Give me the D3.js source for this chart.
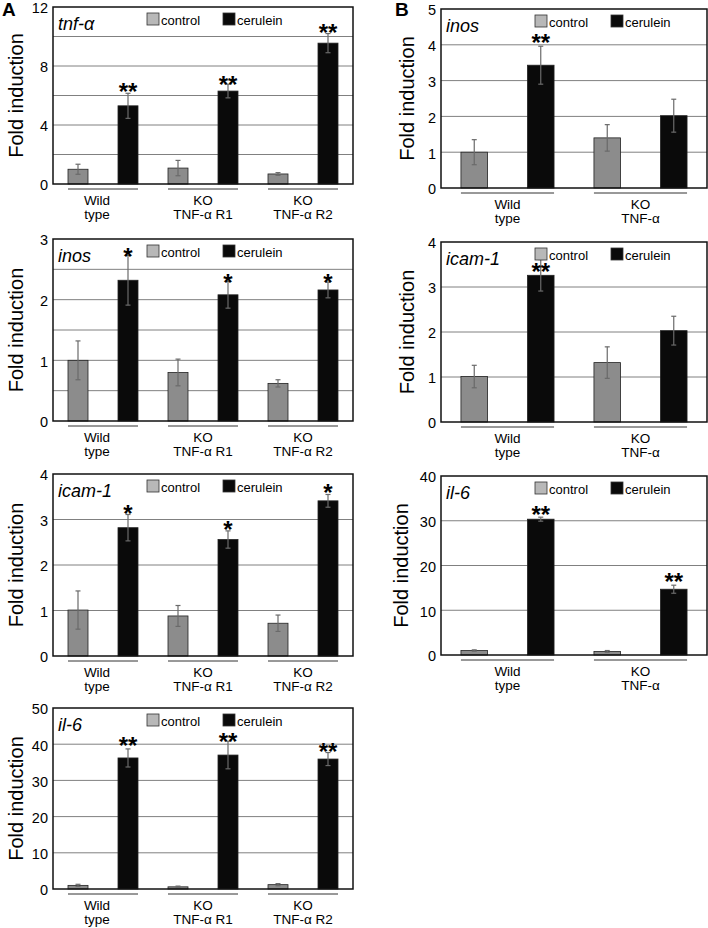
<!DOCTYPE html>
<html>
<head>
<meta charset="utf-8">
<script src="https://cdn.jsdelivr.net/npm/d3@7"></script>
<style>
  html, body { margin: 0; padding: 0; background: #fff; }
  svg { display: block; font-family: "Liberation Sans", Arial, sans-serif; }
</style>
</head>
<body>
<svg id="chart" width="708" height="928"></svg>
<script>
// ---------------- DATA ----------------
const seriesNames = ["control", "cerulein"];
const groupsA = [["Wild", "type"], ["KO", "TNF-α R1"], ["KO", "TNF-α R2"]];
const groupsB = [["Wild", "type"], ["KO", "TNF-α"]];

// Panel A – tnf-α
const tnfA_control = [1.0, 1.08, 0.68];
const tnfA_controlErr = [0.34, 0.52, 0.09];
const tnfA_cerulein = [5.3, 6.3, 9.55];
const tnfA_ceruleinErr = [0.85, 0.46, 0.65];
const tnfA_stars = ["**", "**", "**"];
const tnfA_starLevel = [6.17, 6.7, 10.2];
const tnfA_ticks = [0, 4, 8, 12];
const tnfA_grid = [2, 4, 6, 8, 10];

// Panel A – inos
const inosA_control = [1.0, 0.8, 0.62];
const inosA_controlErr = [0.32, 0.22, 0.06];
const inosA_cerulein = [2.32, 2.08, 2.16];
const inosA_ceruleinErr = [0.41, 0.22, 0.13];
const inosA_stars = ["*", "*", "*"];
const inosA_starLevel = [2.7, 2.27, 2.27];
const inosA_ticks = [0, 1, 2, 3];
const inosA_grid = [0.5, 1, 1.5, 2, 2.5];

// Panel A – icam-1
const icamA_control = [1.01, 0.88, 0.72];
const icamA_controlErr = [0.42, 0.23, 0.18];
const icamA_cerulein = [2.82, 2.56, 3.41];
const icamA_ceruleinErr = [0.29, 0.19, 0.14];
const icamA_stars = ["*", "*", "*"];
const icamA_starLevel = [3.1, 2.76, 3.58];
const icamA_ticks = [0, 1, 2, 3, 4];
const icamA_grid = [1, 2, 3];

// Panel A – il-6
const il6A_control = [1.0, 0.6, 1.2];
const il6A_controlErr = [0.3, 0.2, 0.3];
const il6A_cerulein = [36.2, 37.0, 35.9];
const il6A_ceruleinErr = [2.5, 3.8, 1.8];
const il6A_stars = ["**", "**", "**"];
const il6A_starLevel = [39.3, 40.4, 37.6];
const il6A_ticks = [0, 10, 20, 30, 40, 50];
const il6A_grid = [10, 20, 30, 40];

// Panel B – inos
const inosB_control = [1.0, 1.4];
const inosB_controlErr = [0.35, 0.37];
const inosB_cerulein = [3.43, 2.02];
const inosB_ceruleinErr = [0.53, 0.46];
const inosB_stars = ["**", ""];
const inosB_starLevel = [4.05, 0];
const inosB_ticks = [0, 1, 2, 3, 4, 5];
const inosB_grid = [1, 2, 3, 4];

// Panel B – icam-1
const icamB_control = [1.01, 1.32];
const icamB_controlErr = [0.25, 0.35];
const icamB_cerulein = [3.26, 2.03];
const icamB_ceruleinErr = [0.35, 0.32];
const icamB_stars = ["**", ""];
const icamB_starLevel = [3.32, 0];
const icamB_ticks = [0, 1, 2, 3, 4];
const icamB_grid = [1, 2, 3];

// Panel B – il-6
const il6B_control = [1.0, 0.8];
const il6B_controlErr = [0.15, 0.2];
const il6B_cerulein = [30.35, 14.7];
const il6B_ceruleinErr = [0.45, 0.9];
const il6B_stars = ["**", "**"];
const il6B_starLevel = [31.2, 16.1];
const il6B_ticks = [0, 10, 20, 30, 40];
const il6B_grid = [10, 20, 30];

// ---------------- PANELS (layout) ----------------
const panels = [
  {gene: "tnf-α", groups: groupsA, control: tnfA_control, controlErr: tnfA_controlErr, cerulein: tnfA_cerulein, ceruleinErr: tnfA_ceruleinErr, stars: tnfA_stars, starLevel: tnfA_starLevel, ticks: tnfA_ticks, grid: tnfA_grid,
   x0: 53, x1: 353, y0: 7, y1: 184, labelX: 23, letter: "A"},
  {gene: "inos", groups: groupsA, control: inosA_control, controlErr: inosA_controlErr, cerulein: inosA_cerulein, ceruleinErr: inosA_ceruleinErr, stars: inosA_stars, starLevel: inosA_starLevel, ticks: inosA_ticks, grid: inosA_grid,
   x0: 53, x1: 353, y0: 239, y1: 421, labelX: 23},
  {gene: "icam-1", groups: groupsA, control: icamA_control, controlErr: icamA_controlErr, cerulein: icamA_cerulein, ceruleinErr: icamA_ceruleinErr, stars: icamA_stars, starLevel: icamA_starLevel, ticks: icamA_ticks, grid: icamA_grid,
   x0: 53, x1: 353, y0: 474, y1: 656, labelX: 23},
  {gene: "il-6", groups: groupsA, control: il6A_control, controlErr: il6A_controlErr, cerulein: il6A_cerulein, ceruleinErr: il6A_ceruleinErr, stars: il6A_stars, starLevel: il6A_starLevel, ticks: il6A_ticks, grid: il6A_grid,
   x0: 53, x1: 353, y0: 708, y1: 889, labelX: 23},
  {gene: "inos", groups: groupsB, control: inosB_control, controlErr: inosB_controlErr, cerulein: inosB_cerulein, ceruleinErr: inosB_ceruleinErr, stars: inosB_stars, starLevel: inosB_starLevel, ticks: inosB_ticks, grid: inosB_grid,
   x0: 441, x1: 707, y0: 9, y1: 188, labelX: 414, letter: "B"},
  {gene: "icam-1", groups: groupsB, control: icamB_control, controlErr: icamB_controlErr, cerulein: icamB_cerulein, ceruleinErr: icamB_ceruleinErr, stars: icamB_stars, starLevel: icamB_starLevel, ticks: icamB_ticks, grid: icamB_grid,
   x0: 441, x1: 707, y0: 242, y1: 422, labelX: 414},
  {gene: "il-6", groups: groupsB, control: il6B_control, controlErr: il6B_controlErr, cerulein: il6B_cerulein, ceruleinErr: il6B_ceruleinErr, stars: il6B_stars, starLevel: il6B_starLevel, ticks: il6B_ticks, grid: il6B_grid,
   x0: 441, x1: 707, y0: 476, y1: 655, labelX: 408}
];

const colors = {control: "#8c8c8c", cerulein: "#0a0a0a"};
const legendColors = {control: "#b8b8b8", cerulein: "#0a0a0a"};

const svg = d3.select("#chart");
svg.append("rect").attr("width", 708).attr("height", 928).attr("fill", "#fff");

panels.forEach(p => {
  const g = svg.append("g");
  const maxTick = d3.max(p.ticks);
  const y = d3.scaleLinear().domain([0, maxTick]).range([p.y1, p.y0]);
  const gx = d3.scaleBand().domain(d3.range(p.groups.length)).range([p.x0, p.x1]).padding(0);
  const sx = d3.scaleBand().domain(seriesNames).range([0, gx.bandwidth()]).paddingInner(0.6).paddingOuter(0.3);

  // gridlines
  g.selectAll("line.grid").data(p.grid).join("line")
    .attr("x1", p.x0).attr("x2", p.x1)
    .attr("y1", d => y(d)).attr("y2", d => y(d))
    .attr("stroke", "#808080").attr("stroke-width", 1);

  // bars
  const rows = [];
  p.groups.forEach((grp, i) => {
    rows.push({i, s: "control", v: p.control[i], e: p.controlErr[i]});
    rows.push({i, s: "cerulein", v: p.cerulein[i], e: p.ceruleinErr[i]});
  });
  g.selectAll("rect.bar").data(rows).join("rect")
    .attr("x", d => gx(d.i) + sx(d.s))
    .attr("width", sx.bandwidth())
    .attr("y", d => y(d.v))
    .attr("height", d => y(0) - y(d.v))
    .attr("fill", d => colors[d.s])
    .attr("stroke", "#222").attr("stroke-width", 0.8);

  // error bars
  const eb = g.selectAll("g.err").data(rows).join("g");
  const cx = d => gx(d.i) + sx(d.s) + sx.bandwidth() / 2;
  eb.append("line")
    .attr("x1", cx).attr("x2", cx)
    .attr("y1", d => y(d.v - d.e)).attr("y2", d => y(d.v + d.e))
    .attr("stroke", "#6a6a6a").attr("stroke-width", 1.2);
  eb.append("line")
    .attr("x1", d => cx(d) - 2.5).attr("x2", d => cx(d) + 2.5)
    .attr("y1", d => y(d.v + d.e)).attr("y2", d => y(d.v + d.e))
    .attr("stroke", "#6a6a6a").attr("stroke-width", 1.2);
  eb.append("line")
    .attr("x1", d => cx(d) - 2.5).attr("x2", d => cx(d) + 2.5)
    .attr("y1", d => y(d.v - d.e)).attr("y2", d => y(d.v - d.e))
    .attr("stroke", "#6a6a6a").attr("stroke-width", 1.2);

  // significance stars
  g.selectAll("text.star").data(p.groups.map((_, i) => i).filter(i => p.stars[i])).join("text")
    .attr("x", i => gx(i) + sx("cerulein") + sx.bandwidth() / 2)
    .attr("y", i => y(p.starLevel[i]) + 7.5)
    .attr("text-anchor", "middle")
    .attr("font-size", 24).attr("font-weight", "bold")
    .text(i => p.stars[i]);

  // frame
  g.append("rect")
    .attr("x", p.x0).attr("y", p.y0)
    .attr("width", p.x1 - p.x0).attr("height", p.y1 - p.y0)
    .attr("fill", "none").attr("stroke", "#111").attr("stroke-width", 1.5);

  // y axis
  const ax = g.append("g").attr("transform", `translate(${p.x0},0)`)
    .call(d3.axisLeft(y).tickValues(p.ticks).tickSize(0).tickPadding(5).tickFormat(d3.format("d")));
  ax.select(".domain").remove();
  ax.selectAll("text").attr("font-size", 14.5).attr("fill", "#000")
    .attr("dy", "0.4em")
    .attr("font-family", "Liberation Sans, Arial, sans-serif");

  // y label
  g.append("text")
    .attr("transform", `translate(${p.labelX},${(p.y0 + p.y1) / 2}) rotate(-90)`)
    .attr("text-anchor", "middle")
    .attr("font-size", 20)
    .text("Fold induction");

  // gene title
  g.append("text")
    .attr("x", p.x0 + 5).attr("y", p.y0 + 23)
    .attr("font-size", 18).attr("font-style", "italic")
    .text(p.gene);

  // legend
  seriesNames.forEach((s, k) => {
    const lx = p.x0 + (k === 0 ? 94 : 170);
    g.append("rect").attr("x", lx).attr("y", p.y0 + 6).attr("width", 12).attr("height", 12)
      .attr("fill", legendColors[s]).attr("stroke", "#333").attr("stroke-width", 0.8);
    g.append("text").attr("x", lx + 14).attr("y", p.y0 + 17.5)
      .attr("font-size", 13).text(s);
  });

  // group underlines and labels
  p.groups.forEach((lines, i) => {
    const gl = gx(i) + sx("control");
    const gr = gx(i) + sx("cerulein") + sx.bandwidth();
    g.append("line").attr("x1", gl).attr("x2", gr)
      .attr("y1", p.y1 + 5).attr("y2", p.y1 + 5)
      .attr("stroke", "#333").attr("stroke-width", 1);
    const dx = (p.groups === groupsA && i === 0) ? -6 : 0;
    lines.forEach((t, j) => {
      g.append("text")
        .attr("x", (gl + gr) / 2 + dx)
        .attr("y", p.y1 + 21 + j * 13.5)
        .attr("text-anchor", "middle")
        .attr("font-size", 13.5)
        .text(t);
    });
  });

  if (p.letter) {
    g.append("text").attr("x", p.letter === "A" ? 2 : 395).attr("y", 16)
      .attr("font-size", 19).attr("font-weight", "bold").text(p.letter);
  }
});
</script>
</body>
</html>
